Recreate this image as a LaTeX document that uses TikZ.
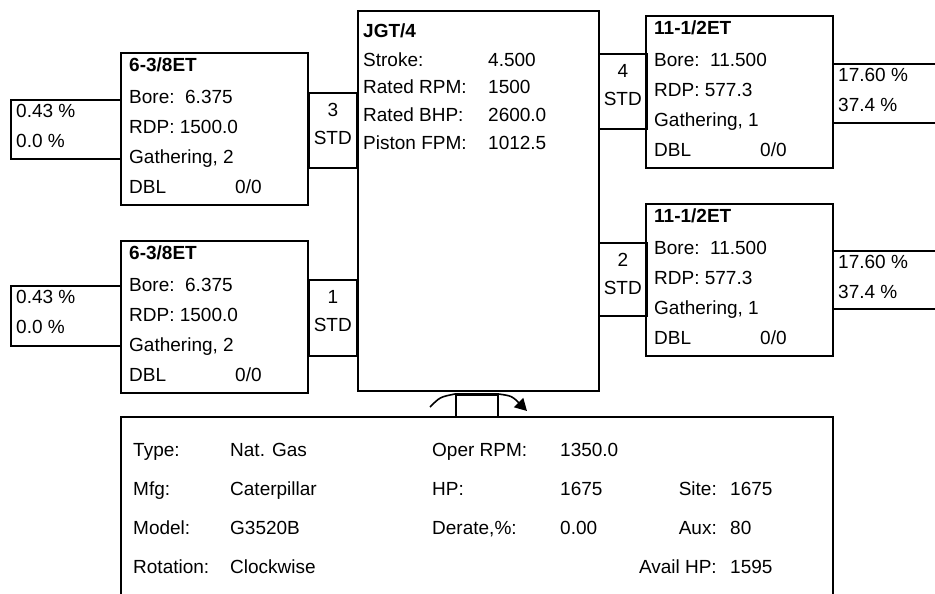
\documentclass[tikz,border=0pt]{standalone}
\usepackage{fontspec}
\setmainfont{Liberation Sans}
\usetikzlibrary{arrows.meta}

\tikzset{
	box/.style={draw, line width=1.6pt, anchor=north west, inner sep=0pt},
	txt/.style={anchor=west, inner sep=0pt, text height=13pt, text depth=4pt, font=\fontsize{19}{19}\selectfont},
	ttl/.style={txt, font=\fontsize{19}{19}\selectfont\bfseries},
	mid/.style={anchor=center, inner sep=0pt, text height=13pt, text depth=4pt, font=\fontsize{19}{19}\selectfont},
	rgt/.style={anchor=east, inner sep=0pt, text height=13pt, text depth=4pt, font=\fontsize{19}{19}\selectfont},
	rot/.style={line width=1.6pt, -{Triangle[length=12pt,width=13pt]}}
}

% cylinder: name, x, y, title, bore, rdp, gathering
\newcommand{\cylbox}[7]{%
	\node[box, minimum width=187pt, minimum height=152pt] (#1) at (#2,#3) {};
	\node[ttl] (#1t) at ([shift={(9pt,-15pt)}]#1.north west) {#4};
	\node[txt] (#1b) at ([shift={(9pt,-47pt)}]#1.north west) {Bore:\ \ #5};
	\node[txt] (#1r) at ([shift={(9pt,-77pt)}]#1.north west) {RDP:\ #6};
	\node[txt] (#1g) at ([shift={(9pt,-107pt)}]#1.north west) {Gathering, #7};
	\node[txt] (#1d) at ([shift={(9pt,-137pt)}]#1.north west) {DBL};
	\node[txt] (#1v) at ([shift={(115pt,-137pt)}]#1.north west) {0/0};
}
% stub: name, x, y, height, number
\newcommand{\stubbox}[5]{%
	\node[box, minimum width=48pt, minimum height=#4pt] (#1) at (#2,#3) {};
	\node[mid] (#1n) at ([yshift=-20pt]#1.north) {#5};
	\node[mid] (#1s) at ([yshift=-48pt]#1.north) {STD};
}
% clearance: name, x, y, width, height, line 1, line 2
\newcommand{\pctbox}[7]{%
	\node[box, minimum width=#4pt, minimum height=#5pt] (#1) at (#2,#3) {};
	\node[txt] (#1a) at ([shift={(6pt,-14pt)}]#1.north west) {#6};
	\node[txt] (#1b) at ([shift={(6pt,-44pt)}]#1.north west) {#7};
}

\begin{document}
\begin{tikzpicture}[x=1pt, y=-1pt]
	\useasboundingbox (0,0) rectangle (935,594);
	\clip (0,0) rectangle (935,594);

	% Frame
	\node[box, minimum width=241pt, minimum height=380pt] (frame) at (357,10) {};
	\node[ttl] (framet) at (363,33) {JGT/4};
	\node[txt] (stroke) at (363,62) {Stroke:};
	\node[txt] (strokev) at (488,62) {4.500};
	\node[txt] (rrpm) at (363,89) {Rated RPM:};
	\node[txt] (rrpmv) at (488,89) {1500};
	\node[txt] (rbhp) at (363,117) {Rated BHP:};
	\node[txt] (rbhpv) at (488,117) {2600.0};
	\node[txt] (fpm) at (363,145) {Piston FPM:};
	\node[txt] (fpmv) at (488,145) {1012.5};

	% Throws
	\stubbox{s3}{308}{92}{75}{3}
	\stubbox{s1}{308}{279}{76}{1}
	\stubbox{s4}{598}{53}{75}{4}
	\stubbox{s2}{598}{242}{73}{2}

	% Cylinders
	\cylbox{c3}{120}{52}{6-3/8ET}{6.375}{1500.0}{2}
	\cylbox{c1}{120}{240}{6-3/8ET}{6.375}{1500.0}{2}
	\cylbox{c4}{645}{15}{11-1/2ET}{11.500}{577.3}{1}
	\cylbox{c2}{645}{203}{11-1/2ET}{11.500}{577.3}{1}

	% Clearances
	\pctbox{p3}{10}{99}{110}{59}{0.43 \%}{0.0 \%}
	\pctbox{p1}{10}{285}{110}{60}{0.43 \%}{0.0 \%}
	\pctbox{p4}{832}{63}{120}{59}{17.60 \%}{37.4 \%}
	\pctbox{p2}{832}{250}{120}{58}{17.60 \%}{37.4 \%}

	% Driver
	\node[box, minimum width=712pt, minimum height=200pt] (engine) at (120,416) {};
	\node[box, minimum width=42pt, minimum height=22pt] (coupling) at (455,394) {};
	\coordinate (rotA) at (430,407);
	\coordinate (rotB) at (527,411);
	\draw[rot] (rotA) .. controls (440,397) .. (coupling.north west) -- (coupling.north east) .. controls (512,396) .. (rotB);

	\node[txt] (type) at (133,452) {Type:};
	\node[txt] (typev) at (230,452) {Nat. Gas};
	\node[txt] (mfg) at (133,491) {Mfg:};
	\node[txt] (mfgv) at (230,491) {Caterpillar};
	\node[txt] (model) at (133,530) {Model:};
	\node[txt] (modelv) at (230,530) {G3520B};
	\node[txt] (rotn) at (133,569) {Rotation:};
	\node[txt] (rotnv) at (230,569) {Clockwise};

	\node[txt] (oper) at (432,452) {Oper RPM:};
	\node[txt] (operv) at (560,452) {1350.0};
	\node[txt] (hp) at (432,491) {HP:};
	\node[txt] (hpv) at (560,491) {1675};
	\node[txt] (derate) at (432,530) {Derate,\%:};
	\node[txt] (deratev) at (560,530) {0.00};

	\node[rgt] (site) at (717,491) {Site:};
	\node[txt] (sitev) at (730,491) {1675};
	\node[rgt] (aux) at (717,530) {Aux:};
	\node[txt] (auxv) at (730,530) {80};
	\node[rgt] (avail) at (717,569) {Avail HP:};
	\node[txt] (availv) at (730,569) {1595};
\end{tikzpicture}
\end{document}
